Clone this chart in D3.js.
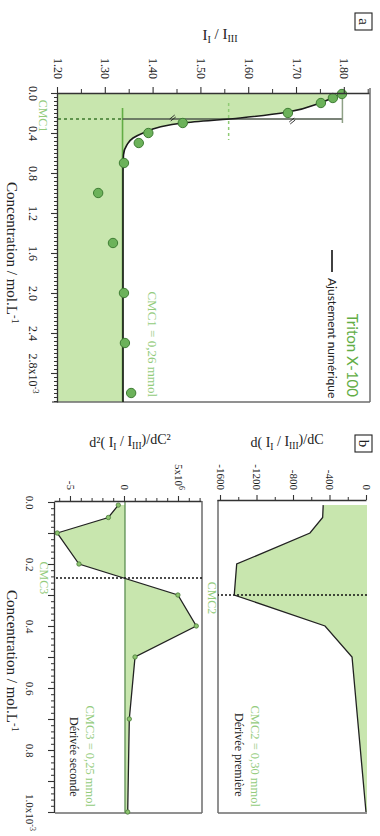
<!DOCTYPE html>
<html><head><meta charset="utf-8">
<script src="https://cdn.jsdelivr.net/npm/d3@7"></script>
<style>body{margin:0;background:#fff} svg{display:block}</style>
</head><body>
<svg id="c" width="380" height="836"></svg>
<script>
// ---------- DATA ----------
// Panel a : I1/I3 vs concentration (x10^-3 mol/L)
const concA  = [0.01, 0.05, 0.10, 0.20, 0.30, 0.40, 0.50, 0.70, 1.00, 1.50, 2.00, 2.50, 3.00];
const ratioA = [1.794, 1.775, 1.750, 1.681, 1.461, 1.389, 1.369, 1.338, 1.284, 1.315, 1.338, 1.340, 1.353];
// numerical fit
const fitC = [0, 0.05, 0.10, 0.19, 0.25, 0.30, 0.34, 0.40, 0.45, 0.52, 0.62, 0.80, 3.09];
const fitI = [1.796, 1.773, 1.748, 1.681, 1.581, 1.461, 1.413, 1.378, 1.357, 1.344, 1.337, 1.336, 1.336];
const ratioTicks = [1.2, 1.3, 1.4, 1.5, 1.6, 1.7, 1.8];
const concTicksA = [0, 0.4, 0.8, 1.2, 1.6, 2.0, 2.4, 2.8];
const cmc1 = 0.26, plateauLow = 1.335, plateauHigh = 1.795, midRatio = 1.557;

// Panel b : derivatives
const concB = [0.01, 0.05, 0.10, 0.20, 0.30, 0.40, 0.50, 0.70, 1.00];
const deriv1 = [-480, -486, -625, -1428, -1455, -460, -164, -103, -11];
const deriv2 = [-0.62, -1.54, -6.27, -4.26, 4.9, 6.6, 0.93, 0.4, 0.25]; // x10^6
const concTicksB = [0, 0.2, 0.4, 0.6, 0.8, 1.0];
const d1Ticks = [-1600, -1200, -800, -400, 0];
const d2Ticks = [-5, 0, 5];
const cmc2 = 0.30, cmc3 = 0.245;

// ---------- SETUP ----------
const serif = "'Liberation Serif','Times New Roman',serif";
const sans = "Lato,'Open Sans',sans-serif";
const C = {fill:'#c8e6ae', mark:'#6cb25a', markStroke:'#3e7d33', green:'#62ad45',
           pale:'#93cb7c', frame:'#6d6d6d', axis:'#333'};
const svg = d3.select('#c');
const g = svg.append('g').attr('transform','translate(380,0) rotate(90)');

function styleAxis(sel, fs){
  sel.selectAll('path.domain').attr('stroke', C.axis).attr('stroke-width',1.3);
  sel.selectAll('.tick line').attr('stroke', C.axis).attr('stroke-width',1.1);
  sel.selectAll('.tick text').attr('font-family',serif).attr('font-size',fs).attr('fill','#222');
  return sel;
}
function minor(gen, tr, vals, size){
  const a = g.append('g').attr('transform',tr).call(gen.tickValues(vals).tickSize(size).tickFormat(''));
  a.select('.domain').remove();
  a.selectAll('.tick line').attr('stroke',C.axis).attr('stroke-width',1);
}
function line(x1,y1,x2,y2,stroke,w,dash){
  const l = g.append('line').attr('x1',x1).attr('y1',y1).attr('x2',x2).attr('y2',y2)
    .attr('stroke',stroke).attr('stroke-width',w);
  if(dash) l.attr('stroke-dasharray',dash);
  return l;
}
function text(x,y,str,opt){
  const t = g.append('text').attr('x',x).attr('y',y).text(str)
    .attr('font-family',opt.font||serif).attr('font-size',opt.size||12)
    .attr('fill',opt.fill||'#222').attr('text-anchor',opt.anchor||'start');
  return t;
}
function supLabel(sel, base, sup){
  sel.text(null);
  sel.append('tspan').text(base);
  sel.append('tspan').attr('dy','-0.45em').attr('font-size','0.72em').text(sup);
}
function ratioTitle(t, pre, post){
  t.append('tspan').text(pre + 'I');
  t.append('tspan').attr('dy','0.3em').attr('font-size','0.68em').text('I');
  t.append('tspan').attr('dy','-0.3em').text(' / I');
  t.append('tspan').attr('dy','0.3em').attr('font-size','0.68em').text('III');
  if(post) t.append('tspan').attr('dy','-0.3em').text(post);
}

// ---------- PANEL A ----------
const xA = d3.scaleLinear().domain([0, 3.09]).range([93, 402]);
const yA = d3.scaleLinear().domain([1.2, 1.8527]).range([322, 10]);
const fitData = fitC.map((c,i)=>({c, v:fitI[i]}));

g.append('path').datum(fitData)
  .attr('d', d3.area().x(d=>xA(d.c)).y0(yA(1.2)).y1(d=>yA(d.v)).curve(d3.curveMonotoneX))
  .attr('fill', C.fill);

// frame
line(88, yA.range()[1], 402, yA.range()[1], C.frame, 1.5);
line(402, 10, 402, 328, C.frame, 1.5);

// construction lines
line(xA(0.15), yA(plateauLow), xA(3.09), yA(plateauLow), C.green, 1.6);
line(xA(cmc1), yA(1.2), xA(cmc1), yA(plateauLow), '#3d7a2c', 1.6, '3,3');
line(xA(cmc1), yA(plateauLow), xA(cmc1), yA(plateauHigh), '#4f5a4c', 1.5);
line(xA(0), yA(plateauHigh), xA(0.30), yA(plateauHigh), '#8ea086', 1.5);
line(xA(0.10), yA(midRatio), xA(0.47), yA(midRatio), '#8fcb74', 1.5, '3,3');
// small break marks
[[xA(0.25), yA(1.44)], [xA(0.28), yA(1.69)]].forEach(([u,v])=>{
  line(u-3, v-2, u+1, v+3, '#222', 0.9);
  line(u-1, v-3, u+3, v+2, '#222', 0.9);
});

// fit line
g.append('path').datum(fitData)
  .attr('d', d3.line().x(d=>xA(d.c)).y(d=>yA(d.v)).curve(d3.curveMonotoneX))
  .attr('fill','none').attr('stroke','#1b1b1b').attr('stroke-width',1.6);

// points
g.selectAll('circle.pa').data(concA.map((c,i)=>({c, v:ratioA[i]}))).enter()
  .append('circle').attr('class','pa')
  .attr('cx',d=>xA(d.c)).attr('cy',d=>yA(d.v)).attr('r',4.7)
  .attr('fill',C.mark).attr('stroke',C.markStroke).attr('stroke-width',1);

// axes
styleAxis(g.append('g').attr('transform','translate(93,0)')
  .call(d3.axisLeft(yA).tickValues(ratioTicks).tickSize(6).tickSizeOuter(0).tickPadding(8)
    .tickFormat(d3.format('.2f'))), 12);
minor(d3.axisLeft(yA), 'translate(93,0)', d3.range(0,13).map(i=>1.25+i*0.1).filter(v=>v<1.853), 4);

const axA = styleAxis(g.append('g').attr('transform','translate(0,322)')
  .call(d3.axisBottom(xA).tickValues(concTicksA).tickSize(7).tickSizeOuter(0).tickPadding(13)
    .tickFormat(d3.format('.1f'))), 12);
axA.selectAll('.tick text').filter(d=>Math.abs(d-2.8)<1e-6).each(function(){ supLabel(d3.select(this),'2.8x10','-3'); });
minor(d3.axisBottom(xA), 'translate(0,322)', d3.range(0,78).map(i=>i*0.04), 4);

// titles
const tA = g.append('text').attr('transform','translate(40,160) rotate(-90)')
  .attr('text-anchor','middle').attr('font-family',serif).attr('font-size',15).attr('fill','#222');
ratioTitle(tA, '', '');
const cA = text(253, 373, '', {size:15, anchor:'middle'});
supLabel(cA, 'Concentration / mol.L', '-1');

text(116, 341, 'CMC1', {size:12, anchor:'middle', fill:C.pale});
text(397, 232, 'CMC1 = 0,26 mmol', {size:13, anchor:'end', fill:C.pale});
text(397, 33, 'Triton X-100', {size:15, anchor:'end', fill:C.green, font:sans});
line(250, 48, 272, 48, '#111', 1.6);
text(278, 52, 'Ajustement numérique', {size:12, font:sans});

// panel label a
g.append('rect').attr('x',13).attr('y',8).attr('width',17).attr('height',17)
  .attr('fill','none').attr('stroke','#222').attr('stroke-width',1.1);
text(21.5, 21, 'a', {size:15, anchor:'middle'});

// ---------- PANEL B ----------
const xB = d3.scaleLinear().domain([0, 1.0]).range([502, 812]);
const y1 = d3.scaleLinear().domain([-1633, 0]).range([162, 13]);
const y2 = d3.scaleLinear().domain([-6.48, 7.13]).range([325, 178]);
const d1Data = concB.map((c,i)=>({c, v:deriv1[i]}));
const d2Data = concB.map((c,i)=>({c, v:deriv2[i]}));

g.append('path').datum(d1Data)
  .attr('d', d3.area().x(d=>xB(d.c)).y0(y1(0)).y1(d=>y1(d.v))).attr('fill',C.fill);
g.append('path').datum(d2Data)
  .attr('d', d3.area().x(d=>xB(d.c)).y0(y2(0)).y1(d=>y2(d.v))).attr('fill',C.fill);

// frames
line(500, y1(-1633), 813, y1(-1633), C.frame, 1.5);
line(813, y1(-1633), 813, 13, C.frame, 1.5);
line(501, 178, 813, 178, C.frame, 1.5);
line(813, 178, 813, 325, C.frame, 1.5);
// zero line of second derivative
line(501, y2(0), 813, y2(0), '#5d8f52', 1.3);

// CMC dotted lines
line(xB(cmc3), 178, xB(cmc3), 325, '#111', 1.4, '2,2');
line(xB(cmc2), 13, xB(cmc2), 162, '#111', 1.4, '2,2');

// curves
g.append('path').datum(d1Data).attr('d', d3.line().x(d=>xB(d.c)).y(d=>y1(d.v)))
  .attr('fill','none').attr('stroke','#222').attr('stroke-width',1.3);
g.append('path').datum(d2Data).attr('d', d3.line().x(d=>xB(d.c)).y(d=>y2(d.v)))
  .attr('fill','none').attr('stroke','#222').attr('stroke-width',1.3);
g.selectAll('circle.pb').data(d2Data).enter().append('circle').attr('class','pb')
  .attr('cx',d=>xB(d.c)).attr('cy',d=>y2(d.v)).attr('r',2.2)
  .attr('fill','#8cc46e').attr('stroke','#4a7a3a').attr('stroke-width',0.8);

// axes
styleAxis(g.append('g').attr('transform','translate(500,0)')
  .call(d3.axisLeft(y1).tickValues(d1Ticks).tickSize(5).tickSizeOuter(0).tickPadding(5)
    .tickFormat(d=>String(d))), 11);
minor(d3.axisLeft(y1), 'translate(500,0)', d3.range(-1600, 1, 200).filter(v=>v%400!==0), 3);

const ax2 = styleAxis(g.append('g').attr('transform','translate(501,0)')
  .call(d3.axisLeft(y2).tickValues(d2Ticks).tickSize(5).tickSizeOuter(0).tickPadding(6)
    .tickFormat(d=>String(d))), 11);
ax2.selectAll('.tick text').filter(d=>d===5).each(function(){ supLabel(d3.select(this),'5x10','6'); });
minor(d3.axisLeft(y2), 'translate(501,0)', d3.range(-6, 8).filter(v=>v%5!==0), 3);

const axB = styleAxis(g.append('g').attr('transform','translate(0,325)')
  .call(d3.axisBottom(xB).tickValues(d3.range(0,11).map(i=>i/10)).tickSize(7).tickSizeOuter(0).tickPadding(14)
    .tickFormat(d=>{ const k=Math.round(d*10); return k%2===0 ? d3.format('.1f')(d) : ''; })), 11);
axB.selectAll('.tick text').filter(d=>Math.abs(d-1.0)<1e-6).each(function(){ supLabel(d3.select(this),'1.0x10','-3'); });
minor(d3.axisBottom(xB), 'translate(0,325)', d3.range(0,51).map(i=>i*0.02).filter((v,i)=>i%5!==0), 4);

// titles
const t1 = g.append('text').attr('transform','translate(447,93) rotate(-90)')
  .attr('text-anchor','middle').attr('font-family',serif).attr('font-size',14).attr('fill','#222');
ratioTitle(t1, 'd( ', ')/dC');
const t2 = g.append('text').attr('transform','translate(447,250) rotate(-90)')
  .attr('text-anchor','middle').attr('font-family',serif).attr('font-size',14).attr('fill','#222');
ratioTitle(t2, 'd\u00B2( ', ')/dC\u00B2');
const cB = text(661, 373, '', {size:15, anchor:'middle'});
supLabel(cB, 'Concentration / mol.L', '-1');

text(xB(cmc2)+3, 172, 'CMC2', {size:12, anchor:'middle', fill:C.pale});
text(xB(cmc3), 340, 'CMC3', {size:12, anchor:'middle', fill:C.pale});
text(807, 129, 'CMC2 = 0,30 mmol', {size:12.5, anchor:'end', fill:C.pale});
text(713, 145, 'Dérivée première', {size:12});
text(807, 294, 'CMC3 = 0,25 mmol', {size:12.5, anchor:'end', fill:C.pale});
text(717, 310, 'Dérivée seconde', {size:12});

g.append('rect').attr('x',435).attr('y',8).attr('width',17).attr('height',17)
  .attr('fill','none').attr('stroke','#222').attr('stroke-width',1.1);
text(443.5, 21, 'b', {size:15, anchor:'middle'});
</script>
</body></html>
